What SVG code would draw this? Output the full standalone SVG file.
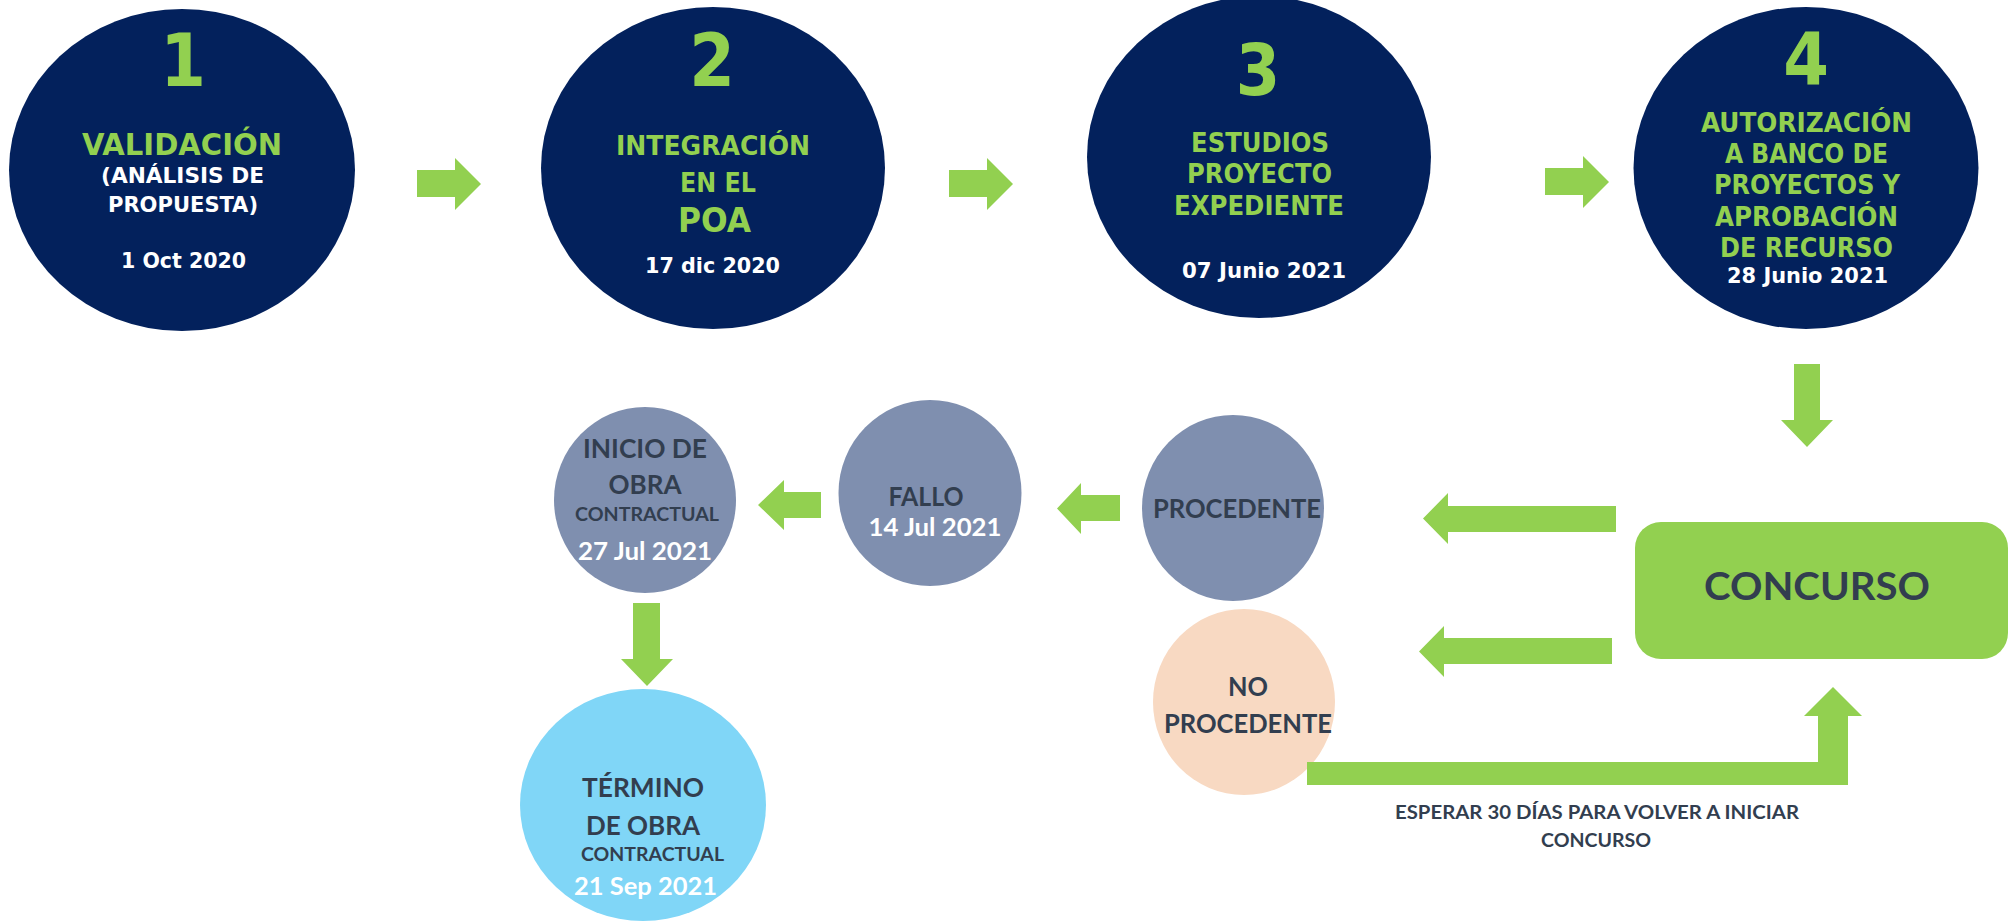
<svg xmlns="http://www.w3.org/2000/svg" width="2012" height="922" viewBox="0 0 2012 922">
<style>
.navy{fill:#03215C}
.slate{fill:#7F8FAF}
.peach{fill:#F8D9C2}
.sky{fill:#80D6F7}
.grn{fill:#92D050}
.t{font-family:"DejaVu Sans Condensed","DejaVu Sans",sans-serif;font-weight:bold;text-anchor:middle}
.g{fill:#92D050}
.w{fill:#FFFFFF}
.c{font-family:Lato,"Open Sans",sans-serif;font-weight:bold;text-anchor:middle}
.d{fill:#323E4F}
</style>
<defs>
<path id="arR" d="M0,12 H38 V0 L64,26 L38,52 V39 H0 Z"/>
</defs>
<rect width="2012" height="922" fill="#FFFFFF"/>

<g id="n1">
<ellipse class="navy" cx="182" cy="170" rx="173" ry="161"/>
<text class="t g" x="183" y="86" font-size="73">1</text>
<text class="t g" x="182" y="155" font-size="30" textLength="200" lengthAdjust="spacingAndGlyphs">VALIDACIÓN</text>
<text class="t w" x="182.5" y="183" font-size="21" textLength="163" lengthAdjust="spacingAndGlyphs">(ANÁLISIS DE</text>
<text class="t w" x="183" y="212" font-size="21" textLength="150" lengthAdjust="spacingAndGlyphs">PROPUESTA)</text>
<text class="t w" x="183.5" y="268" font-size="22" textLength="125" lengthAdjust="spacingAndGlyphs">1 Oct 2020</text>
</g>

<g id="n2">
<ellipse class="navy" cx="713" cy="168" rx="172" ry="161"/>
<text class="t g" x="712" y="86" font-size="73">2</text>
<text class="t g" x="713" y="155" font-size="27" textLength="194" lengthAdjust="spacingAndGlyphs">INTEGRACIÓN</text>
<text class="t g" x="718" y="192" font-size="27" textLength="76" lengthAdjust="spacingAndGlyphs">EN EL</text>
<text class="t g" x="714.5" y="232" font-size="33" textLength="73" lengthAdjust="spacingAndGlyphs">POA</text>
<text class="t w" x="712.5" y="273" font-size="22" textLength="135" lengthAdjust="spacingAndGlyphs">17 dic 2020</text>
</g>

<g id="n3">
<ellipse class="navy" cx="1259" cy="157" rx="172" ry="161"/>
<text class="t g" x="1258" y="95" font-size="71">3</text>
<text class="t g" x="1260" y="152" font-size="26" textLength="138" lengthAdjust="spacingAndGlyphs">ESTUDIOS</text>
<text class="t g" x="1259.5" y="183" font-size="26" textLength="145" lengthAdjust="spacingAndGlyphs">PROYECTO</text>
<text class="t g" x="1259" y="215" font-size="26" textLength="170" lengthAdjust="spacingAndGlyphs">EXPEDIENTE</text>
<text class="t w" x="1264" y="278" font-size="22" textLength="164" lengthAdjust="spacingAndGlyphs">07 Junio 2021</text>
</g>

<g id="n4">
<ellipse class="navy" cx="1806" cy="168" rx="172.5" ry="161"/>
<text class="t g" x="1806" y="85" font-size="73">4</text>
<text class="t g" x="1806.5" y="132" font-size="26" textLength="211" lengthAdjust="spacingAndGlyphs">AUTORIZACIÓN</text>
<text class="t g" x="1806.5" y="163" font-size="26" textLength="163" lengthAdjust="spacingAndGlyphs">A BANCO DE</text>
<text class="t g" x="1807" y="194" font-size="26" textLength="186" lengthAdjust="spacingAndGlyphs">PROYECTOS Y</text>
<text class="t g" x="1806.5" y="226" font-size="26" textLength="183" lengthAdjust="spacingAndGlyphs">APROBACIÓN</text>
<text class="t g" x="1806.5" y="257" font-size="26" textLength="173" lengthAdjust="spacingAndGlyphs">DE RECURSO</text>
<text class="t w" x="1807.5" y="283" font-size="21" textLength="161" lengthAdjust="spacingAndGlyphs">28 Junio 2021</text>
</g>

<g id="concurso">
<rect class="grn" x="1635" y="522" width="373" height="137" rx="26" ry="26"/>
<text class="c d" x="1817" y="600" font-size="39" textLength="226" lengthAdjust="spacingAndGlyphs">CONCURSO</text>
</g>

<g id="procedente">
<ellipse class="slate" cx="1233" cy="508" rx="91" ry="93"/>
<text class="c d" x="1237" y="518" font-size="26.5" textLength="168" lengthAdjust="spacingAndGlyphs">PROCEDENTE</text>
</g>

<g id="no-procedente">
<ellipse class="peach" cx="1244" cy="702" rx="91" ry="93"/>
<text class="c d" x="1248" y="696" font-size="26.5" textLength="40" lengthAdjust="spacingAndGlyphs">NO</text>
<text class="c d" x="1248" y="733" font-size="26.5" textLength="168" lengthAdjust="spacingAndGlyphs">PROCEDENTE</text>
</g>

<g id="fallo">
<ellipse class="slate" cx="930" cy="493" rx="91.5" ry="93"/>
<text class="c d" x="926" y="506" font-size="26.5" textLength="75" lengthAdjust="spacingAndGlyphs">FALLO</text>
<text class="c w" x="935" y="536" font-size="24" textLength="133" lengthAdjust="spacingAndGlyphs">14 Jul 2021</text>
</g>

<g id="inicio">
<ellipse class="slate" cx="645" cy="500" rx="91" ry="93"/>
<text class="c d" x="645" y="458" font-size="26.5" textLength="124" lengthAdjust="spacingAndGlyphs">INICIO DE</text>
<text class="c d" x="645" y="494" font-size="26.5" textLength="73" lengthAdjust="spacingAndGlyphs">OBRA</text>
<text class="c d" x="647" y="521" font-size="19.5" textLength="144" lengthAdjust="spacingAndGlyphs">CONTRACTUAL</text>
<text class="c w" x="645" y="560" font-size="25" textLength="134" lengthAdjust="spacingAndGlyphs">27 Jul 2021</text>
</g>

<g id="termino">
<ellipse class="sky" cx="643" cy="805" rx="123" ry="116"/>
<text class="c d" x="643" y="797" font-size="26.5" textLength="122" lengthAdjust="spacingAndGlyphs">TÉRMINO</text>
<text class="c d" x="643" y="835" font-size="26.5" textLength="114" lengthAdjust="spacingAndGlyphs">DE OBRA</text>
<text class="c d" x="652.5" y="861" font-size="19.5" textLength="143" lengthAdjust="spacingAndGlyphs">CONTRACTUAL</text>
<text class="c w" x="645.5" y="895" font-size="25" textLength="143" lengthAdjust="spacingAndGlyphs">21 Sep 2021</text>
</g>

<g id="connectors" class="grn">
<use href="#arR" x="417" y="158"/>
<use href="#arR" x="949" y="158"/>
<use href="#arR" x="1545" y="156"/>
<path d="M1794,364 H1820 V420 H1833 L1807,447 L1781,420 H1794 Z"/>
<path d="M1616,506 H1448 V493 L1423,518.5 L1448,544 V532 H1616 Z"/>
<path d="M1612,638 H1444 V626 L1419,651.5 L1444,677 V664 H1612 Z"/>
<path d="M1120,495 H1081 V483 L1057,508.5 L1081,534 V521 H1120 Z"/>
<path d="M821,492 H784 V480 L758,505 L784,530 V518 H821 Z"/>
<path d="M633,603 H660 V659 H673 L647,686 L621,659 H633 Z"/>
<path d="M1307,762 H1818 V716 H1804 L1833,687 L1862,716 H1848 V785 H1307 Z"/>
</g>

<g id="note">
<text class="c d" x="1597" y="819" font-size="19.5" textLength="404" lengthAdjust="spacingAndGlyphs">ESPERAR 30 DÍAS PARA VOLVER A INICIAR</text>
<text class="c d" x="1596" y="847" font-size="19.5" textLength="110" lengthAdjust="spacingAndGlyphs">CONCURSO</text>
</g>
</svg>
